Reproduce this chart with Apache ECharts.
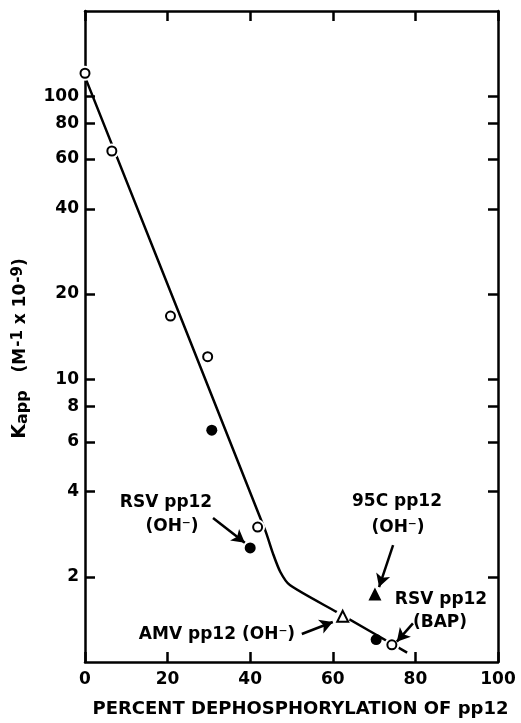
<!DOCTYPE html>
<html>
<head>
<meta charset="utf-8">
<script src="https://cdn.jsdelivr.net/npm/echarts@6/dist/echarts.min.js"></script>
<style>
html, body { margin: 0; padding: 0; background: #fff; }
#chart { width: 521px; height: 723px; }
</style>
</head>
<body>
<div id="chart"></div>
<script>
// percent dephosphorylation vs Kapp (M^-1 x 10^-9)
var openCircles = [[0, 120.5], [6.5, 64], [20.7, 16.7], [29.7, 12.0], [41.8, 3.0], [74.3, 1.15]];
var filledCircles = [[30.7, 6.6], [40.0, 2.53], [70.5, 1.2]];
var openTriangles = [[62.4, 1.45]];
var filledTriangles = [[70.2, 1.74]];
var fitLine = [[0, 117], [43.6, 2.93], [45.5, 2.42], [47.3, 2.08], [49.6, 1.87], [61, 1.5], [78, 1.08]];
var yTickValues = [2, 4, 6, 8, 10, 20, 40, 60, 80, 100];
var yMin = 1, yMax = 200;

// arrows: [from, to] in data units
var arrows = [
    [[31.0, 3.23], [38.7, 2.64]],
    [[74.6, 2.59], [71.2, 1.84]],
    [[79.4, 1.37], [75.5, 1.18]],
    [[52.5, 1.256], [60.0, 1.385]]
];

var lg = function (v) { return Math.log10(v); };
var toLog = function (list) {
    return list.map(function (p) { return [p[0], lg(p[1])]; });
};
var yTicksLog = yTickValues.map(lg);

var FONT = 'DejaVu Sans';
var myChart = echarts.init(document.getElementById('chart'));

var axisLineStyle = {color: '#000', width: 2.5};
var tickStyle = {show: true, inside: true, length: 10, lineStyle: {color: '#000', width: 2.5}};

var yAxisBase = function (pos, showLabel) {
    return {
        type: 'value',
        position: pos,
        min: lg(yMin),
        max: lg(yMax),
        axisLine: {show: true, onZero: false, lineStyle: axisLineStyle},
        axisTick: Object.assign({customValues: yTicksLog}, tickStyle),
        axisLabel: {
            show: showLabel,
            customValues: yTicksLog,
            margin: 6,
            color: '#000',
            fontFamily: FONT,
            fontWeight: 'bold',
            fontSize: 17,
            formatter: function (v) { return Math.round(Math.pow(10, v)); }
        },
        splitLine: {show: false}
    };
};

var richBase = {fontFamily: FONT, fontWeight: 'bold', color: '#000'};
var leftY = yAxisBase('left', true);
leftY.name = '{k|K}{sub|app}{t|   (M}{sup|-1}{t| x 10}{sup|-9}{t|)}';
leftY.nameLocation = 'middle';
leftY.nameGap = 54;
leftY.nameRotate = 90;
leftY.nameTextStyle = {
    color: '#000',
    fontFamily: FONT,
    fontWeight: 'bold',
    padding: [0, 24, 0, 0],
    rich: {
        k: Object.assign({fontSize: 19}, richBase),
        sub: Object.assign({fontSize: 16, padding: [5, 0, 0, 0]}, richBase),
        t: Object.assign({fontSize: 17}, richBase),
        sup: Object.assign({fontSize: 15, padding: [0, 0, 4, 1]}, richBase)
    }
};

var rightY = yAxisBase('right', false);

var xAxisBase = function (pos, showLabel) {
    return {
        type: 'value',
        position: pos,
        min: 0,
        max: 100,
        interval: 20,
        axisLine: {show: true, onZero: false, lineStyle: axisLineStyle},
        axisTick: tickStyle,
        axisLabel: {
            show: showLabel,
            margin: 9,
            color: '#000',
            fontFamily: FONT,
            fontWeight: 'bold',
            fontSize: 17
        },
        splitLine: {show: false}
    };
};

var bottomX = xAxisBase('bottom', true);
bottomX.name = 'PERCENT DEPHOSPHORYLATION OF pp12';
bottomX.nameLocation = 'middle';
bottomX.nameGap = 38;
bottomX.nameTextStyle = {color: '#000', fontFamily: FONT, fontWeight: 'bold', fontSize: 18, padding: [0, 0, 0, 18]};

var topX = xAxisBase('top', false);

var markerBase = {
    type: 'scatter',
    xAxisIndex: 0,
    yAxisIndex: 0,
    silent: true,
    z: 4
};

var note = function (text, x, y) {
    return {
        type: 'text',
        x: x,
        y: y,
        style: {
            text: text,
            fill: '#000',
            font: 'bold 17px "DejaVu Sans"',
            align: 'center',
            verticalAlign: 'middle'
        }
    };
};

var option = {
    animation: false,
    backgroundColor: '#fff',
    grid: {left: 85, right: 23, top: 11, bottom: 61, outerBoundsMode: 'none'},
    xAxis: [bottomX, topX],
    yAxis: [leftY, rightY],
    series: [
        {
            type: 'line',
            data: toLog(fitLine),
            symbol: 'none',
            smooth: 0.25,
            lineStyle: {color: '#000', width: 2.5},
            silent: true,
            z: 2
        },
        // white halo that breaks the line around the markers on it
        Object.assign({}, markerBase, {
            data: toLog(openCircles.concat(openTriangles)),
            symbol: 'circle',
            symbolSize: 15,
            itemStyle: {color: '#fff', opacity: 1},
            z: 3
        }),
        Object.assign({}, markerBase, {
            data: toLog(openCircles),
            symbol: 'circle',
            symbolSize: 9,
            itemStyle: {color: '#fff', borderColor: '#000', borderWidth: 2, opacity: 1}
        }),
        Object.assign({}, markerBase, {
            data: toLog(filledCircles),
            symbol: 'circle',
            symbolSize: 11,
            itemStyle: {color: '#000', opacity: 1}
        }),
        Object.assign({}, markerBase, {
            data: toLog(openTriangles),
            symbol: 'triangle',
            symbolSize: 11,
            itemStyle: {color: '#fff', borderColor: '#000', borderWidth: 2, opacity: 1}
        }),
        Object.assign({}, markerBase, {
            data: toLog(filledTriangles),
            symbol: 'triangle',
            symbolSize: 13,
            itemStyle: {color: '#000', opacity: 1},
            markLine: {
                silent: true,
                symbol: ['none', 'arrow'],
                symbolSize: [11, 13],
                label: {show: false},
                lineStyle: {color: '#000', width: 2.5, type: 'solid', opacity: 1},
                data: arrows.map(function (a) {
                    return [{coord: [a[0][0], lg(a[0][1])]}, {coord: [a[1][0], lg(a[1][1])]}];
                })
            }
        })
    ],
    graphic: [
        note('RSV pp12', 166, 503),
        note('(OH⁻)', 172, 527),
        note('95C pp12', 397, 502),
        note('(OH⁻)', 398, 528),
        note('RSV pp12', 441, 600),
        note('(BAP)', 440, 623),
        note('AMV pp12 (OH⁻)', 217, 635)
    ]
};

myChart.setOption(option);
</script>
</body>
</html>
